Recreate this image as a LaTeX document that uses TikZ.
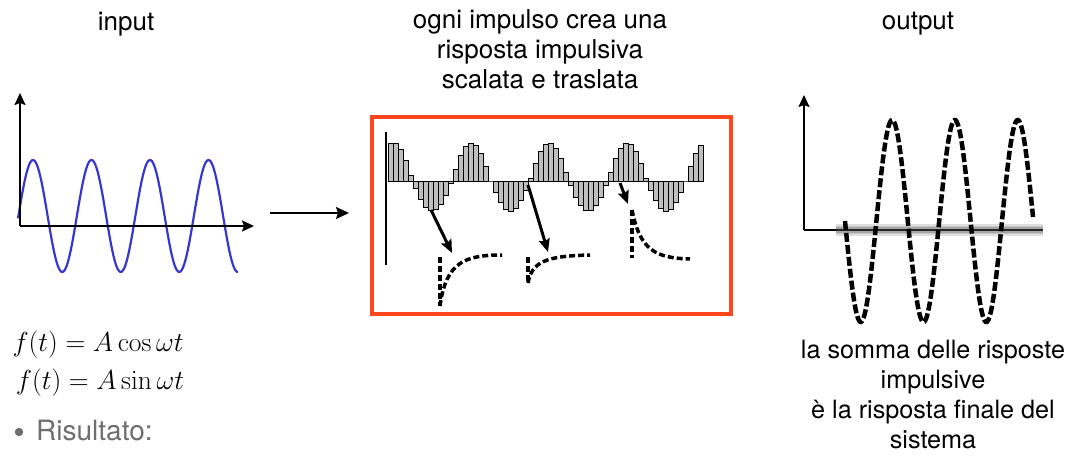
\documentclass[tikz,border=0pt]{standalone}
\usepackage{fix-cm}
\usepackage[no-math]{fontspec}
\setmainfont{TeX Gyre Heros}
\usetikzlibrary{arrows.meta}
\definecolor{boxred}{RGB}{255,70,30}
\definecolor{wave}{RGB}{55,55,205}
\definecolor{note}{RGB}{110,110,110}
\tikzset{
  lbl/.style={font=\fontsize{26}{30}\selectfont, align=center, inner sep=0pt},
  axis/.style={line width=2pt, -{Stealth[length=12pt,width=11pt,inset=2pt]}},
  plainaxis/.style={line width=2pt},
  bar/.style={fill=gray!50, draw=black, line width=0.8pt},
  kick/.style={line width=3pt, -{Stealth[length=13pt,width=11pt,inset=2pt]}},
  resp/.style={line width=3.5pt, dash pattern=on 6pt off 3pt},
  sumwave/.style={line width=4.5pt, dash pattern=on 9pt off 3pt},
  flow/.style={line width=1.8pt, -{Stealth[length=13pt,width=12pt,inset=2pt]}},
}
\begin{document}
\begin{tikzpicture}[x=1pt, y=-1pt]
\useasboundingbox (0,0) rectangle (1084,457);

% ---------- labels ----------
\node[lbl] (tin) at (126,24) {input};
\node[lbl] (tmid) at (540,49) {ogni impulso crea una\\risposta impulsiva\\scalata e traslata};
\node[lbl] (tout) at (918,24) {output};
\node[lbl, font=\fontsize{25.2}{30}\selectfont] (tsum) at (933,395) {la somma delle risposte\\impulsive\\è la risposta finale del\\sistema};

% ---------- input signal ----------
\coordinate (o1) at (20,226);
\coordinate (y1) at (20,93);
\coordinate (x1) at (254,226);
\draw[wave, line width=2.2pt, domain=18:238, samples=200, smooth]
  plot (\x, {216-56*cos(6.1538*(\x-33))});
\draw[axis] (o1) -- (y1);
\draw[axis] (o1) -- (x1);

% ---------- formulas ----------
\node[inner sep=0pt, font=\fontsize{27.5}{30}\selectfont] (f1) at (98,345) {$f(t) = A\cos\omega t$};
\node[inner sep=0pt, font=\fontsize{27.5}{30}\selectfont] (f2) at (100,383) {$f(t) = A\sin\omega t$};
\node[inner sep=0pt, text=note, font=\fontsize{28}{30}\selectfont, anchor=west] (res) at (36,431) {Risultato:};
\fill[note] (19,432) circle (4.2pt);

% ---------- arrow between input and system ----------
\coordinate (a1) at (270,213);
\coordinate (a2) at (349,213);
\draw[flow] (a1) -- (a2);

% ---------- system box ----------
\draw[boxred, line width=4pt] (372,117) rectangle (731,314);
\coordinate (o2) at (386,181);
\coordinate (t2) at (386,132);
\coordinate (b2) at (386,265);
\draw[plainaxis] (t2) -- (b2);
% sampled input as a train of impulses
\foreach \i in {0,...,62} {
  \pgfmathsetmacro\xa{388+5*\i}
  \pgfmathsetmacro\v{cos(4.61538*(\xa+2.5-393))}
  \pgfmathsetmacro\h{\v>0 ? 38*\v : 30*\v}
  \draw[bar] (\xa,181) rectangle (\xa+5,181-\h);
}
% impulses and their responses
\coordinate (k1s) at (431,210); \coordinate (k1e) at (452,253);
\coordinate (k2s) at (528,185); \coordinate (k2e) at (548,252);
\coordinate (k3s) at (620,183); \coordinate (k3e) at (628,204);
\draw[kick] (k1s) -- (k1e);
\draw[kick] (k2s) -- (k2e);
\draw[kick] (k3s) -- (k3e);

\coordinate (r1a) at (440,257); \coordinate (r1b) at (440,306); \coordinate (r1c) at (502,255);
\draw[resp] (r1a) -- (r1b);
\draw[resp] (r1b) .. controls (446,262) and (465,255) .. (r1c);

\coordinate (r2a) at (528,257); \coordinate (r2b) at (528,283); \coordinate (r2c) at (590,255);
\draw[resp] (r2a) -- (r2b);
\draw[resp] (r2b) .. controls (532,262) and (545,256) .. (r2c);

\coordinate (r3a) at (632,210); \coordinate (r3b) at (632,258); \coordinate (r3c) at (690,259);
\draw[resp] (r3a) -- (r3b);
\draw[resp] (r3a) .. controls (640,250) and (655,258) .. (r3c);

% ---------- output signal ----------
\coordinate (o3) at (804,230);
\coordinate (y3) at (804,95);
\coordinate (x3) at (1043,230);
\draw[axis] (o3) -- (y3);
\draw[plainaxis] (o3) -- (x3);
% blurred baseline band
\draw[gray!25, line width=12pt] (836,230) -- (1043,230);
\draw[gray!45, line width=8pt] (836,230) -- (1043,230);
\draw[gray!70, line width=5pt] (836,230) -- (1043,230);
\draw[black!85, line width=2.5pt] (836,230) -- (1043,230);
\draw[sumwave, domain=845:1033, samples=200, smooth]
  plot (\x, {221+101*sin(5.7325*(\x-845))});
\end{tikzpicture}
\end{document}
